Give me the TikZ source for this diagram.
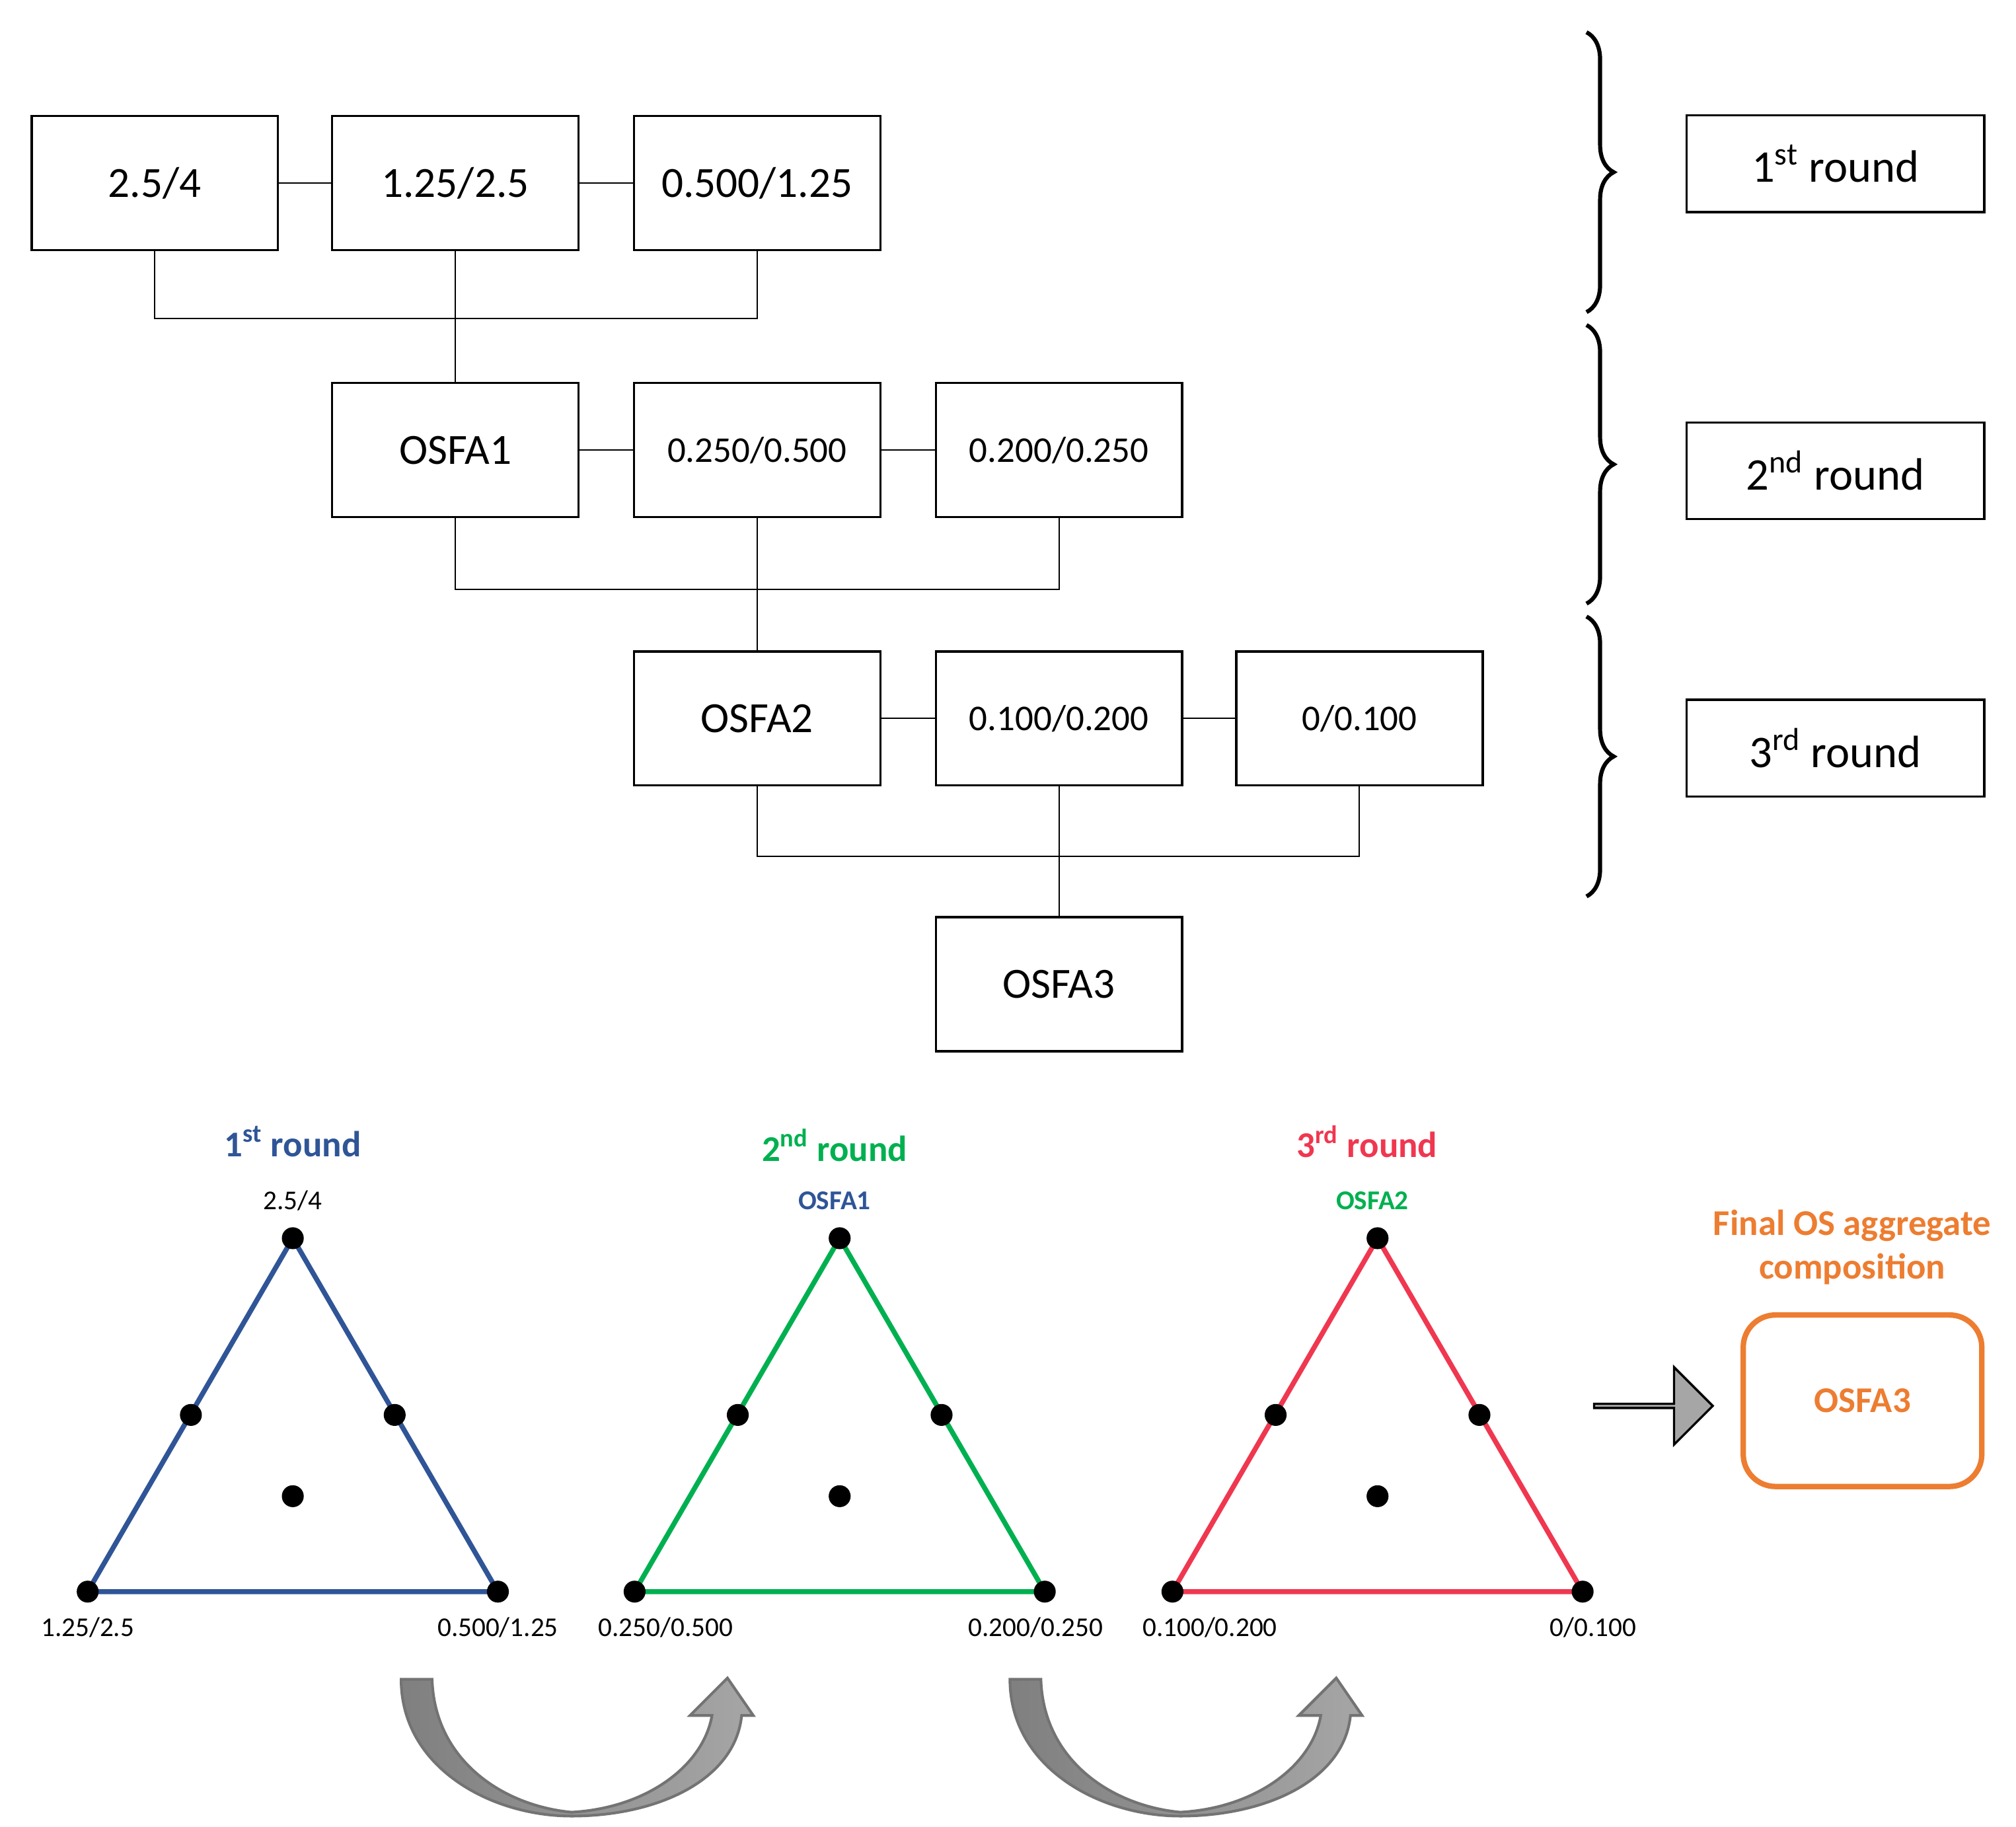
\documentclass[tikz,border=0pt]{standalone}
\usepackage{fontspec}
\setmainfont{Carlito}
\usetikzlibrary{decorations.pathreplacing,shapes.arrows}
\definecolor{cb}{RGB}{47,85,151}
\definecolor{cg}{RGB}{0,176,80}
\definecolor{cr}{RGB}{240,55,80}
\definecolor{co}{RGB}{237,125,49}
\begin{document}
\begin{tikzpicture}[x=0.02cm,y=-0.02cm,
 box/.style={draw,line width=1pt,minimum width=3.82cm,minimum height=2.08cm,inner sep=0pt,font=\fontsize{19}{22}\selectfont},
 sm/.style={font=\fontsize{16}{19}\selectfont},
 rbox/.style={draw,line width=1pt,minimum width=4.62cm,minimum height=1.5cm,inner sep=0pt,font=\fontsize{20}{24}\selectfont},
 ln/.style={line width=0.6pt},
 br/.style={decorate,decoration={brace,amplitude=12pt},line width=1.8pt},
 dot/.style={circle,fill=black,inner sep=0pt,minimum size=0.34cm},
 lab/.style={font=\fontsize{12}{14}\selectfont},
 tit/.style={font=\bfseries\fontsize{16}{18}\selectfont},
 carr/.style={draw=gray!110,line width=1.2pt,left color=black!50,right color=black!35}]
\useasboundingbox (0,0) rectangle (1563,1416);
\node[box] (a1) at (120,142) {2.5/4};
\node[box] (a2) at (353,142) {1.25/2.5};
\node[box] (a3) at (587,142) {0.500/1.25};
\node[box] (b1) at (353,349) {OSFA1};
\node[box,sm] (b2) at (587,349) {0.250/0.500};
\node[box,sm] (b3) at (821,349) {0.200/0.250};
\node[box] (c1) at (587,557) {OSFA2};
\node[box,sm] (c2) at (821,557) {0.100/0.200};
\node[box,sm] (c3) at (1054,557) {0/0.100};
\node[box] (d1) at (821,763) {OSFA3};
\draw[ln] (a1)--(a2) (a2)--(a3) (b1)--(b2) (b2)--(b3) (c1)--(c2) (c2)--(c3);
\draw[ln] (a1.south)--(120,247)-|(a3.south) (a2.south)--(b1.north);
\draw[ln] (b1.south)--(353,457)-|(b3.south) (b2.south)--(c1.north);
\draw[ln] (c1.south)--(587,664)-|(c3.south) (c2.south)--(d1.north);
\coordinate (r1t) at (1230,25); \coordinate (r1b) at (1230,242);
\coordinate (r2t) at (1230,252); \coordinate (r2b) at (1230,468);
\coordinate (r3t) at (1230,478); \coordinate (r3b) at (1230,695);
\draw[br] (r1t)--(r1b); \draw[br] (r2t)--(r2b); \draw[br] (r3t)--(r3b);
\node[rbox] (k1) at (1423,127) {1\textsuperscript{st} round};
\node[rbox] (k2) at (1423,365) {2\textsuperscript{nd} round};
\node[rbox] (k3) at (1423,580) {3\textsuperscript{rd} round};
\foreach \dx/\col/\nm in {0/cb/t1,424/cg/t2,841/cr/t3}{
 \coordinate (\nm a) at (227+\dx,960);
 \coordinate (\nm l) at (68+\dx,1234);
 \coordinate (\nm r) at (386+\dx,1234);
 \draw[\col,line width=2.2pt] (\nm a)--(\nm l)--(\nm r)--cycle;
 \node[dot] (\nm d1) at (\nm a) {};
 \node[dot] (\nm d2) at (\nm l) {};
 \node[dot] (\nm d3) at (\nm r) {};
 \node[dot] (\nm d4) at (148+\dx,1097) {};
 \node[dot] (\nm d5) at (306+\dx,1097) {};
 \node[dot] (\nm d6) at (227+\dx,1160) {};
}
\node[tit,text=cb] (h1) at (227,885) {1\textsuperscript{st} round};
\node[tit,text=cg] (h2) at (647,888) {2\textsuperscript{nd} round};
\node[tit,text=cr] (h3) at (1060,885) {3\textsuperscript{rd} round};
\node[lab] (p1) at (227,931) {2.5/4};
\node[lab,font=\bfseries\fontsize{12}{14}\selectfont,text=cb] (p2) at (647,931) {OSFA1};
\node[lab,font=\bfseries\fontsize{12}{14}\selectfont,text=cg] (p3) at (1064,931) {OSFA2};
\node[lab] (q1) at (68,1262) {1.25/2.5};
\node[lab] (q2) at (386,1262) {0.500/1.25};
\node[lab] (q3) at (516,1262) {0.250/0.500};
\node[lab] (q4) at (803,1262) {0.200/0.250};
\node[lab] (q5) at (938,1262) {0.100/0.200};
\node[lab] (q6) at (1235,1262) {0/0.100};
\node[single arrow,draw,fill=black!35,line width=1pt,minimum height=1.84cm,minimum width=1.2cm,single arrow head extend=0.3cm,single arrow head indent=0pt,inner sep=0pt,anchor=west] (ar) at (1235,1090) {};
\node[draw=co,line width=2.4pt,rounded corners=0.5cm,minimum width=3.7cm,minimum height=2.66cm,text=co,font=\bfseries\fontsize{16}{18}\selectfont] (fin) at (1444,1086) {OSFA3};
\node[text=co,font=\bfseries\fontsize{16}{19}\selectfont,align=center] (ft) at (1436,967) {Final OS aggregate\\composition};
\foreach \dx in {0,472}{
\begin{scope}[xshift=\dx*0.02cm]
\path[carr] (311,1302) .. controls (311,1370) and (380,1408) .. (443,1408) .. controls (510,1408) and (570,1380) .. (575,1330) -- (584,1330) -- (564,1301) -- (535,1330) -- (552,1330) .. controls (545,1370) and (500,1402) .. (443,1405) .. controls (390,1400) and (337,1365) .. (335,1302) -- cycle;
\end{scope}}
\end{tikzpicture}
\end{document}
